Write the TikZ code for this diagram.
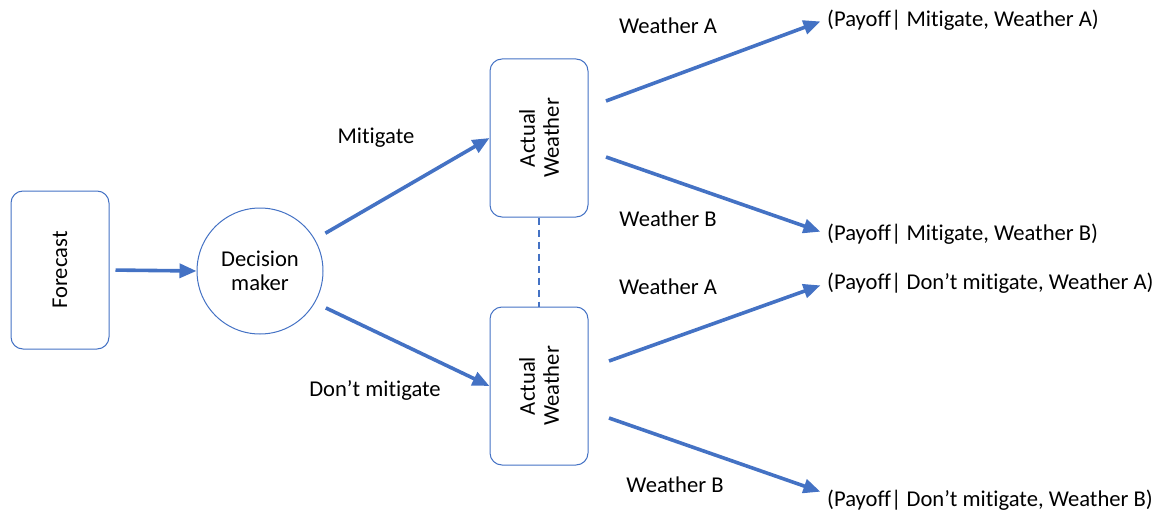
\documentclass[tikz,border=0pt]{standalone}
\usepackage{fontspec}
\setmainfont[Ligatures=NoCommon]{Carlito}
\usetikzlibrary{arrows.meta,calc}
\definecolor{ublue}{HTML}{4472C4}
\begin{document}
\begin{tikzpicture}[x=1pt,y=-1pt,
  every node/.style={font=\fontsize{22.6}{26}\selectfont},
  box/.style={draw=ublue,line width=1pt,rounded corners=12pt,minimum width=98pt,minimum height=158pt,inner sep=0pt},
  circ/.style={draw=ublue,line width=1pt,circle,minimum size=126pt,inner sep=0pt,align=center},
  arr/.style={draw=ublue,line width=3.6pt,-{Triangle[length=17pt,width=14pt]}},
  lbl/.style={inner sep=0pt},
  pay/.style={anchor=west,inner sep=0pt}]
\useasboundingbox (0,0) rectangle (1158,516);
\node[box] (fc) at (60,270) {};
\node[rotate=90,lbl] at (fc.center) {Forecast};
\node[circ] (dm) at (260,271) {Decision\\[-2pt]maker};
\node[box] (aw1) at (539,138) {};
\node[rotate=90,lbl,align=center] at (aw1.center) {Actual\\[-2pt]Weather};
\node[box] (aw2) at (539,386) {};
\node[rotate=90,lbl,align=center] at (aw2.center) {Actual\\[-2pt]Weather};
\draw[ublue,line width=1.8pt,dash pattern=on 7pt off 5pt] (aw1.south) -- (aw2.north);

\node[pay] (p1) at (827,20) {(Payoff| Mitigate, Weather A)};
\node[pay] (p2) at (827,234) {(Payoff| Mitigate, Weather B)};
\node[pay] (p3) at (827,283) {(Payoff| Don’t mitigate, Weather A)};
\node[pay] (p4) at (827,500) {(Payoff| Don’t mitigate, Weather B)};

\coordinate (s1) at (606,101);
\coordinate (s2) at (606,157);
\coordinate (s3) at (609,361);
\coordinate (s4) at (609,418);

\draw[arr,shorten <=6pt] (fc.east) -- (dm.west);
\draw[arr,shorten <=12pt] (dm.30) -- (aw1.west);
\draw[arr,shorten <=12pt] (dm.-30) -- (aw2.west);
\draw[arr,shorten >=7pt] (s1) -- ($(p1.west)+(0,-1)$);
\draw[arr,shorten >=7pt] (s2) -- (p2.west);
\draw[arr,shorten >=7pt] (s3) -- (p3.west);
\draw[arr,shorten >=7pt] (s4) -- ($(p4.west)+(0,-6)$);

\node[lbl] (lm) at (376,138) {Mitigate};
\node[lbl] (ld) at (375,390) {Don’t mitigate};
\node[lbl] (wa1) at (668,26) {Weather A};
\node[lbl] (wb1) at (668,219) {Weather B};
\node[lbl] (wa2) at (668,287) {Weather A};
\node[lbl] (wb2) at (675,485) {Weather B};
\end{tikzpicture}
\end{document}
